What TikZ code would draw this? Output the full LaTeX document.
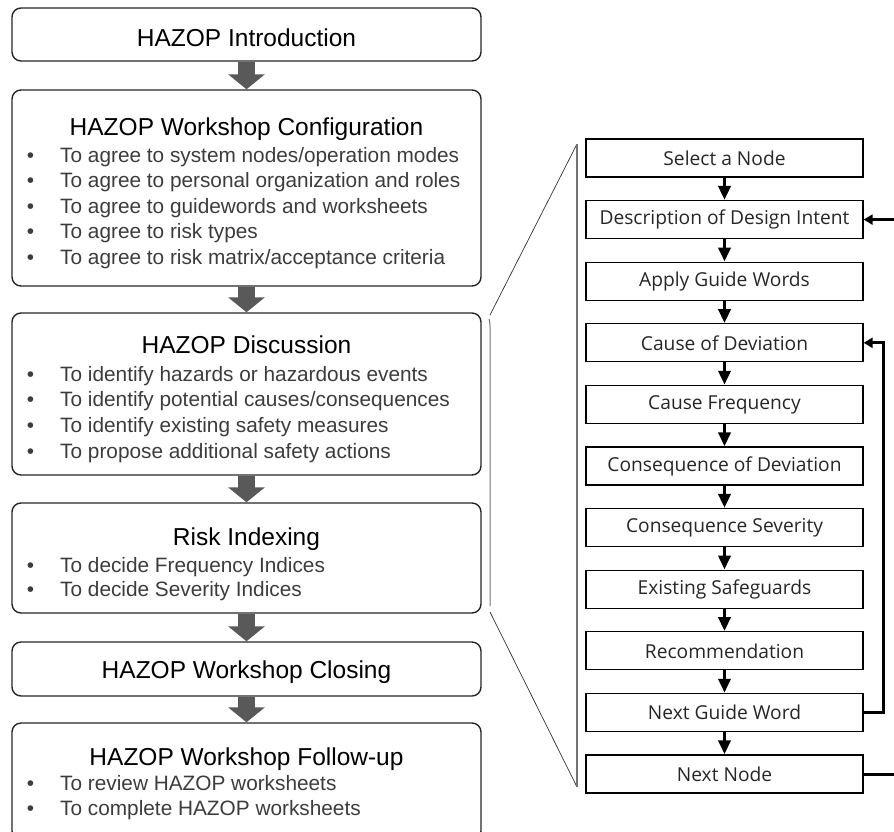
\documentclass[tikz,border=0pt]{standalone}
\usepackage{fontspec}
\setmainfont{Liberation Sans}
\newfontfamily\stepfont{Open Sans}
\usetikzlibrary{arrows.meta, positioning, calc}
\definecolor{flowgray}{RGB}{89,89,89}
\definecolor{itemgray}{RGB}{60,60,60}

\tikzset{
  phasebox/.style={draw=black!85, line width=1.4pt, rounded corners=9pt, minimum width=469pt, inner sep=0pt},
  phasetitle/.style={anchor=base, inner sep=0pt, font=\fontsize{24.5}{28}\selectfont},
  phaseitem/.style={anchor=base west, inner sep=0pt, text=itemgray, font=\fontsize{20.8}{24}\selectfont},
  stepbox/.style={draw, line width=1.3pt, minimum width=277pt, minimum height=38pt, inner sep=0pt, text=black!85, font=\stepfont\fontsize{19.2}{22}\selectfont},
  bigarrow/.style={draw=flowgray, line width=17pt, -{Triangle[width=36pt,length=15pt]}},
  smallarrow/.style={line width=3.5pt, -{Triangle[width=12pt,length=14pt]}},
  looparrow/.style={line width=3pt, -{Triangle[width=10pt,length=9pt]}},
}
\newcommand{\itembullet}{\llap{\textbullet\hspace{26pt}}}

\begin{document}
\begin{tikzpicture}[x=1pt, y=-1pt]
    \useasboundingbox (0,0) rectangle (894,831);
    \clip (0,0) rectangle (894,831);

    % Workshop phases (left)
    \node[phasebox, minimum height=53pt]  (intro)  at (246.5, 34.5) {};
    \node[phasebox, minimum height=196pt] (config) at (246.5, 188) {};
    \node[phasebox, minimum height=162pt] (disc)   at (246.5, 394) {};
    \node[phasebox, minimum height=110pt] (risk)   at (246.5, 558) {};
    \node[phasebox, minimum height=54pt]  (close)  at (246.5, 669) {};
    \node[phasebox, minimum height=117pt] (follow) at (246.5, 781.5) {};

    \node[phasetitle] (introT)  at (246.5, 46)  {HAZOP Introduction};
    \node[phasetitle] (configT) at (246.5, 135) {HAZOP Workshop Configuration};
    \node[phasetitle] (discT)   at (246.5, 353) {HAZOP Discussion};
    \node[phasetitle] (riskT)   at (246.5, 545) {Risk Indexing};
    \node[phasetitle] (closeT)  at (246.5, 678) {HAZOP Workshop Closing};
    \node[phasetitle] (followT) at (246.5, 765) {HAZOP Workshop Follow-up};

    \foreach \txt [count=\i] in {To agree to system nodes/operation modes,
        To agree to personal organization and roles,
        To agree to guidewords and worksheets,
        To agree to risk types,
        To agree to risk matrix/acceptance criteria} {
        \node[phaseitem] (configI\i) at (60, {136.5+25.6*\i}) {\itembullet\txt};
    }
    \foreach \txt [count=\i] in {To identify hazards or hazardous events,
        To identify potential causes/consequences,
        To identify existing safety measures,
        To propose additional safety actions} {
        \node[phaseitem] (discI\i) at (60, {355.3+25.7*\i}) {\itembullet\txt};
    }
    \foreach \txt [count=\i] in {To decide Frequency Indices,
        To decide Severity Indices} {
        \node[phaseitem] (riskI\i) at (60, {547.5+24.5*\i}) {\itembullet\txt};
    }
    \foreach \txt [count=\i] in {To review HAZOP worksheets,
        To complete HAZOP worksheets} {
        \node[phaseitem] (followI\i) at (60, {765+25*\i}) {\itembullet\txt};
    }

    \draw[bigarrow] (intro)  -- (config);
    \draw[bigarrow] (config) -- (disc);
    \draw[bigarrow] (disc)   -- (risk);
    \draw[bigarrow] (risk)   -- (close);
    \draw[bigarrow] (close)  -- (follow);

    % Discussion steps (right)
    \foreach \txt [count=\i] in {Select a Node, Description of Design Intent,
        Apply Guide Words, Cause of Deviation, Cause Frequency,
        Consequence of Deviation, Consequence Severity, Existing Safeguards,
        Recommendation, Next Guide Word, Next Node} {
        \node[stepbox] (s\i) at (724.5, {158+61.6*(\i-1)}) {\txt};
    }
    \foreach \i [remember=\i as \last (initially 1)] in {2,...,11} {
        \draw[smallarrow] (s\last) -- (s\i);
    }

    % loops back
    \coordinate (loopA) at (883, 0);
    \coordinate (loopB) at (910, 0);
    \draw[looparrow] (s10.east) -- (s10.east -| loopA) |- (s4.east);
    \draw[looparrow] (s11.east) -- (s11.east -| loopB) |- (s2.east);

    % zoom bracket
    \coordinate (zoomTL) at (577, 144);
    \coordinate (zoomBL) at (577, 787);
    \coordinate (zoomTR) at (490, 315);
    \coordinate (zoomBR) at (490, 612);
    \draw[black!80, line width=0.7pt] (zoomTL) -- (zoomTR);
    \draw[black!80, line width=0.7pt] (zoomBR) -- (zoomBL);
    \draw[black!55, line width=1pt, rounded corners=3pt] ($(zoomTR)+(-1,4)$) -- ($(zoomTR)+(0,8)$) -- ($(zoomBR)+(0,-6)$);
    \draw[black!55, line width=1.2pt] (zoomTL) -- (zoomBL);
\end{tikzpicture}
\end{document}
